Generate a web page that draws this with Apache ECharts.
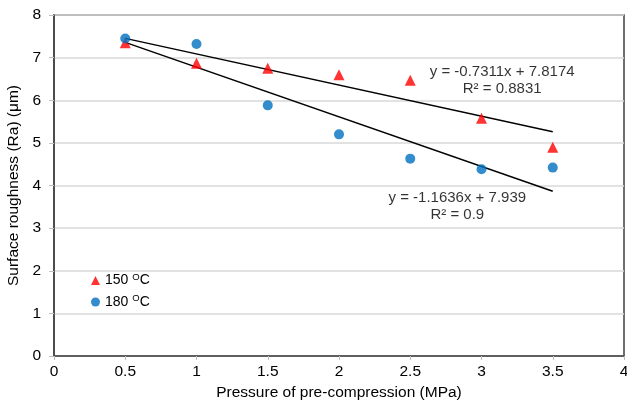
<!DOCTYPE html>
<html>
<head>
<meta charset="utf-8">
<script src="https://cdn.jsdelivr.net/npm/echarts@6/dist/echarts.min.js"></script>
<style>
html,body{margin:0;padding:0;background:#fff;}
#chart{width:627px;height:406px;}
</style>
</head>
<body>
<div id="chart"></div>
<script>
var pressure = [0.5, 1, 1.5, 2, 2.5, 3, 3.5];
var ra150 = [7.35, 6.87, 6.75, 6.6, 6.47, 5.58, 4.9];
var ra180 = [7.45, 7.32, 5.88, 5.2, 4.63, 4.38, 4.42];
var fit150 = {slope: -0.7311, intercept: 7.8174, r2: '0.8831'};
var fit180 = {slope: -1.1636, intercept: 7.939, r2: '0.9'};
var fitRange = [0.5, 3.5];
var xTicks = [0, 0.5, 1, 1.5, 2, 2.5, 3, 3.5, 4];
var yTicks = [0, 1, 2, 3, 4, 5, 6, 7, 8];

var FONT = '"Liberation Sans", Arial, sans-serif';
function pairs(xs, ys){ return xs.map(function(x,i){return [x, ys[i]];}); }
function fitLine(f){ return fitRange.map(function(x){ return [x, f.slope*x + f.intercept]; }); }
function eqText(f){ return 'y = ' + f.slope + 'x + ' + f.intercept + '\nR² = ' + f.r2; }

var chart = echarts.init(document.getElementById('chart'), null, {renderer:'canvas'});
var lbl = {fontFamily: FONT, fontSize: 15.5, color: '#000'};
chart.setOption({
  animation: false,
  backgroundColor: '#fff',
  grid: {left: 54, right: 3, top: 15, bottom: 50, show: true, borderColor: '#404040', borderWidth: 1.5,
         containLabel: false, outerBoundsMode: 'none'},
  xAxis: {
    type: 'value', min: 0, max: 4, interval: 0.5,
    name: 'Pressure of pre-compression (MPa)', nameLocation: 'middle', nameGap: 29,
    nameTextStyle: {fontFamily: FONT, fontSize: 15.5, color: '#000'},
    axisLine: {show: true, onZero: false, lineStyle: {color: '#404040', width: 1.5}},
    axisTick: {show: true, length: 4, lineStyle: {color: '#bfbfbf'}},
    axisLabel: Object.assign({margin: 8}, lbl),
    splitLine: {show: false}
  },
  yAxis: {
    type: 'value', min: 0, max: 8, interval: 1,
    name: 'Surface roughness (Ra) (μm)', nameLocation: 'middle', nameGap: 29,
    nameTextStyle: {fontFamily: FONT, fontSize: 15.5, color: '#000'},
    axisLine: {show: true, lineStyle: {color: '#404040', width: 1.5}},
    axisTick: {show: true, length: 5, lineStyle: {color: '#bfbfbf'}},
    axisLabel: Object.assign({margin: 13}, lbl),
    splitLine: {show: true, lineStyle: {color: '#d9d9d9', width: 1.5}}
  },
  legend: {
    orient: 'vertical', left: 91, top: 272, itemGap: 6, itemWidth: 9, itemHeight: 9, padding: 0,
    data: [{name: '150', icon: 'triangle'}, {name: '180', icon: 'circle'}],
    formatter: function(n){ return '{a|' + n + ' }{s|O}{a|C}'; },
    textStyle: {fontFamily: FONT, fontSize: 14, color: '#000',
      rich: {a: {fontFamily: FONT, fontSize: 14, lineHeight: 17, color: '#000'}, s: {fontFamily: FONT, fontSize: 9.5, color: '#000', verticalAlign: 'top', lineHeight: 17, padding: [0,0,0,0]}}}
  },
  series: [
    {name: 'fit150', type: 'line', data: fitLine(fit150), symbol: 'none', lineStyle: {color: '#000', width: 1.5}, z: 2},
    {name: 'fit180', type: 'line', data: fitLine(fit180), symbol: 'none', lineStyle: {color: '#000', width: 1.5}, z: 2},
    {name: '150', type: 'scatter', data: pairs(pressure, ra150), symbol: 'triangle', symbolSize: 11, itemStyle: {color: '#ff0000'}, z: 3},
    {name: '180', type: 'scatter', data: pairs(pressure, ra180), symbol: 'circle', symbolSize: 10, itemStyle: {color: '#0070c0'}, z: 4},
    {name: 'eq', type: 'scatter', symbolSize: 0, silent: true, z: 5,
      data: [
        {value: [3.145, 6.47], label: {show: true, formatter: eqText(fit150)}},
        {value: [2.83, 3.52], label: {show: true, formatter: eqText(fit180)}}
      ],
      label: {show: true, position: 'inside', align: 'center', verticalAlign: 'middle', fontFamily: FONT, fontSize: 15, lineHeight: 17, color: '#000'}
    }
  ]
});
</script>
</body>
</html>
